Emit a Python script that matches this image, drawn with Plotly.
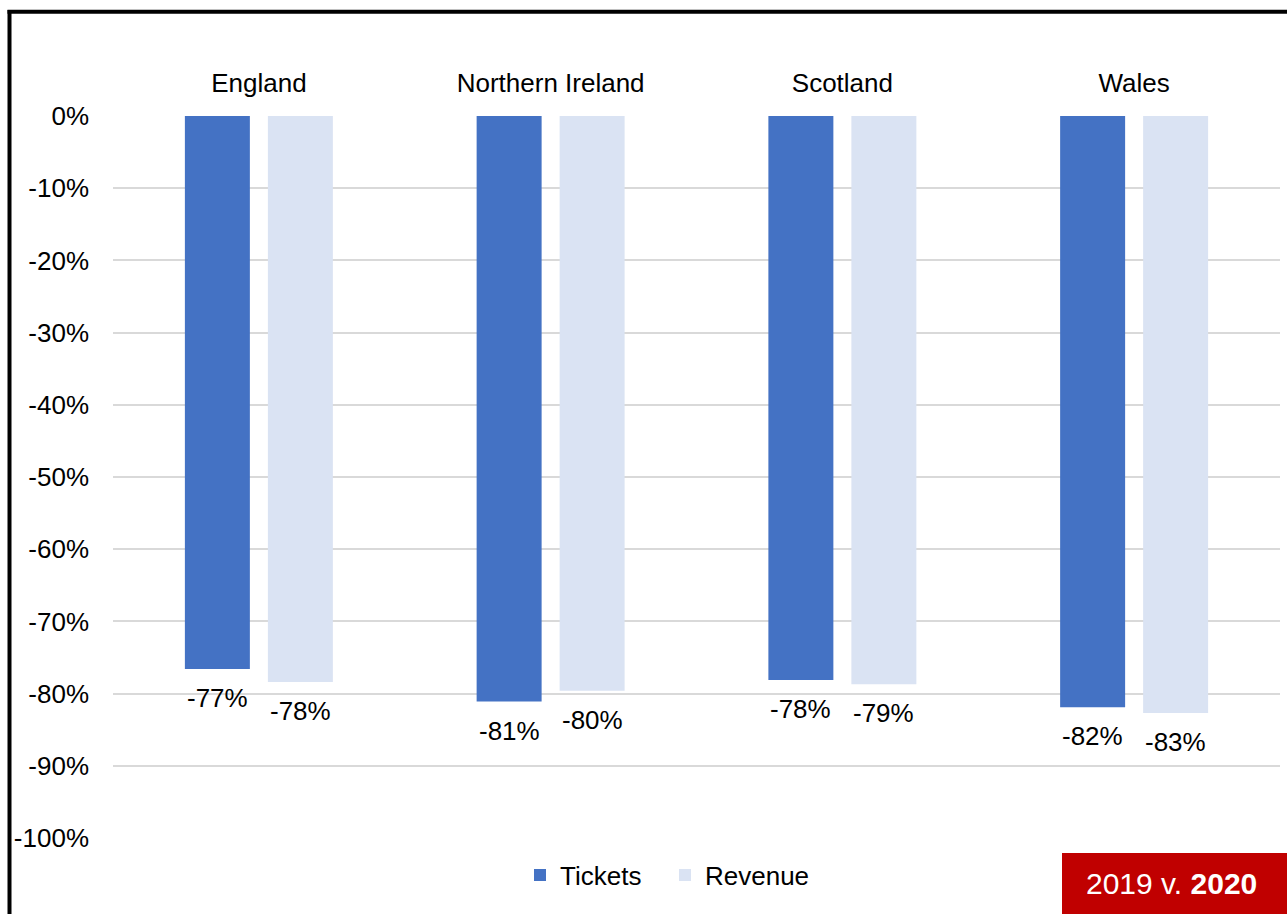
import plotly.graph_objects as go

# Year-on-year change, 2019 v. 2020
nations = ["England", "Northern Ireland", "Scotland", "Wales"]
tickets = [-0.766, -0.811, -0.781, -0.819]
revenue = [-0.784, -0.796, -0.787, -0.827]
y_ticks = [0, -0.1, -0.2, -0.3, -0.4, -0.5, -0.6, -0.7, -0.8, -0.9, -1.0]
y_tick_labels = ["0%", "-10%", "-20%", "-30%", "-40%", "-50%",
                 "-60%", "-70%", "-80%", "-90%", "-100%"]
badge_text = "2019 v. <b>2020</b>"

W, H = 1287, 914
ML, MR, MT, MB = 113, 7, 116, 76
PW, PH = W - ML - MR, H - MT - MB
BARGAP = 0.431
BARGROUPGAP = 0.217
FONT = "Liberation Sans, Arial, sans-serif"
FS = 26
TICKETS_COLOR = "#4472C4"
REVENUE_COLOR = "#DAE3F3"


def px(x):
    return (x - ML) / PW


def py(y):
    return (H - MB - y) / PH


fig = go.Figure()
fig.add_trace(go.Bar(name="Tickets", x=nations, y=tickets,
                     marker=dict(color=TICKETS_COLOR, line=dict(width=0))))
fig.add_trace(go.Bar(name="Revenue", x=nations, y=revenue,
                     marker=dict(color=REVENUE_COLOR, line=dict(width=0))))

# value labels just below each bar end
annotations = []
half_slot = (1 - BARGAP) / 4
for i, (t, r) in enumerate(zip(tickets, revenue)):
    for dx, v in ((-half_slot, t), (half_slot, r)):
        annotations.append(dict(
            x=i + dx, y=v, xref="x", yref="y",
            text=f"{round(v * 100):d}%", showarrow=False,
            yanchor="middle", yshift=-29,
            font=dict(family=FONT, size=FS, color="#000000")))

# period badge, bottom right
annotations.append(dict(
    x=px(1171), y=py(883), xref="paper", yref="paper",
    text=badge_text, showarrow=False, xanchor="center", yanchor="middle",
    font=dict(family=FONT, size=30, color="#ffffff")))

shapes = [
    dict(type="rect", xref="paper", yref="paper",
         x0=px(1062), x1=px(W + 5), y0=py(853), y1=py(H + 5),
         fillcolor="#C00000", line=dict(width=0), layer="above"),
    # frame lines along the top and left edges
    dict(type="line", xref="paper", yref="paper",
         x0=px(7.5), x1=px(W + 5), y0=py(11.7), y1=py(11.7),
         line=dict(color="#000000", width=4)),
    dict(type="line", xref="paper", yref="paper",
         x0=px(9.5), x1=px(9.5), y0=py(10), y1=py(H + 5),
         line=dict(color="#000000", width=4)),
]

fig.update_layout(
    width=W, height=H,
    margin=dict(l=ML, r=MR, t=MT, b=MB, pad=0),
    paper_bgcolor="#ffffff", plot_bgcolor="#ffffff",
    barmode="group", bargap=BARGAP, bargroupgap=BARGROUPGAP,
    font=dict(family=FONT, size=FS, color="#000000"),
    showlegend=True,
    legend=dict(orientation="h", x=px(520), xanchor="left",
                y=py(875), yanchor="middle",
                font=dict(family=FONT, size=FS, color="#000000"),
                itemwidth=30, entrywidth=100, entrywidthmode="pixels",
                traceorder="normal", bgcolor="rgba(0,0,0,0)"),
    annotations=annotations,
    shapes=shapes,
    xaxis=dict(side="top", showgrid=False, showline=False, zeroline=False,
               ticks="", ticklabelstandoff=18,
               tickfont=dict(family=FONT, size=FS, color="#000000"),
               fixedrange=True),
    yaxis=dict(range=[-1.0, 0.0], tickvals=y_ticks, ticktext=y_tick_labels,
               showgrid=True, gridcolor="#D9D9D9", gridwidth=1.5,
               zeroline=False, showline=False, ticks="",
               ticklabelstandoff=23,
               tickfont=dict(family=FONT, size=FS, color="#000000"),
               fixedrange=True),
)

fig.write_html("out.html")
